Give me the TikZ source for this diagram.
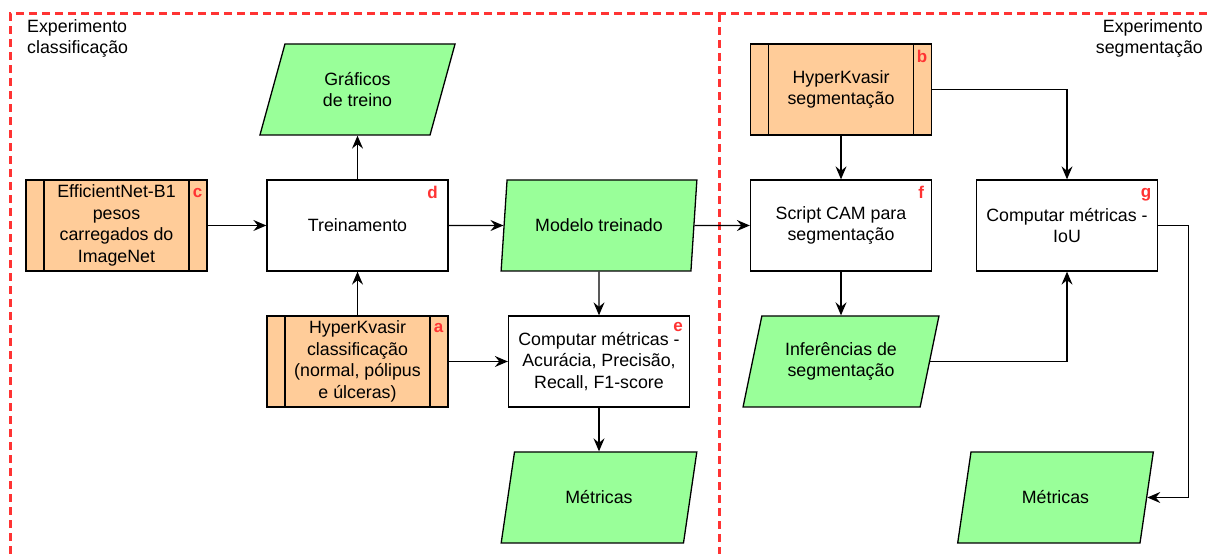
\documentclass[tikz,border=0pt]{standalone}
\usepackage{fontspec}
\setmainfont{Liberation Sans}
\usetikzlibrary{shapes.geometric,arrows.meta}
\definecolor{laranja}{HTML}{FFCC99}
\definecolor{verde}{HTML}{99FF99}
\definecolor{vermelho}{HTML}{FF3333}
\newcommand{\fonte}{\fontsize{17.8pt}{21.6pt}\selectfont}

\tikzset{
  caixa/.style={draw, line width=1.3pt, fill=white, minimum width=181pt, minimum height=91pt,
    inner sep=2pt, align=center, font=\fonte},
  processo/.style={caixa, fill=laranja, path picture={
      \draw[line width=1.3pt] ([xshift=18pt]path picture bounding box.north west) -- ([xshift=18pt]path picture bounding box.south west);
      \draw[line width=1.3pt] ([xshift=-18pt]path picture bounding box.north east) -- ([xshift=-18pt]path picture bounding box.south east);}},
  dados/.style={draw, line width=1.3pt, fill=verde, trapezium, trapezium left angle=72,
    trapezium right angle=108, trapezium stretches=true, minimum width=196pt,
    minimum height=91pt, inner sep=2pt, align=center, font=\fonte},
  letra/.style={text=vermelho, font=\fontsize{17pt}{17pt}\selectfont\bfseries, inner sep=0pt},
  seta/.style={line width=1.3pt, -{Stealth[length=13pt,width=11pt,inset=4.5pt]}},
  borda/.style={draw=vermelho, line width=3pt, dash pattern=on 8pt off 5pt},
  titulo/.style={font=\fonte, inner sep=0pt}
}

\begin{document}
\begin{tikzpicture}[x=1pt,y=1pt,node distance=136pt]
  \useasboundingbox (0,0) rectangle (1211,554);

  % areas dos experimentos
  \draw[borda] (10,0) |- (1211,540);
  \draw[borda] (719,540) -- (719,0);
  \node[titulo,anchor=north west,align=left] (expA) at (27,535) {Experimento\\classificação};
  \node[titulo,anchor=north east,align=right] (expB) at (1203,535) {Experimento\\segmentação};

  % classificacao
  \node[caixa] (treino) at (357.5,328.5) {Treinamento};
  \node[dados,above of=treino] (graficos) {Gráficos\\de treino};
  \node[processo,below of=treino] (kvasirA) {HyperKvasir\\classificação\\(normal, pólipus\\e úlceras)};
  \node[processo,left of=treino,xshift=-105pt] (pesos) {EfficientNet-B1\\pesos\\carregados do\\ImageNet};
  \node[dados,right of=treino,xshift=105.5pt,trapezium left angle=76,trapezium right angle=104] (modelo) {Modelo treinado};
  \node[caixa,below of=modelo] (metricasA) {Computar métricas -\\Acurácia, Precisão,\\Recall, F1-score};
  \node[dados,below of=metricasA] (resultadosA) {Métricas};

  % segmentacao
  \node[caixa,right of=modelo,xshift=106pt] (cam) {Script CAM para\\segmentação};
  \node[processo,above of=cam] (kvasirB) {HyperKvasir\\segmentação};
  \node[dados,below of=cam] (inferencias) {Inferências de\\segmentação};
  \node[caixa,right of=cam,xshift=90pt] (metricasB) {Computar métricas -\\IoU};
  \node[dados,below of=metricasB,yshift=-136pt,xshift=-11.5pt] (resultadosB) {Métricas};

  % letras
  \node[letra] (la) at ([xshift=-10pt,yshift=-13pt]kvasirA.north east) {a};
  \node[letra] (lb) at ([xshift=-10pt,yshift=-13pt]kvasirB.north east) {b};
  \node[letra] (lc) at ([xshift=-10pt,yshift=-14pt]pesos.north east) {c};
  \node[letra] (ld) at ([xshift=-16pt,yshift=-13pt]treino.north east) {d};
  \node[letra] (le) at ([xshift=-12pt,yshift=-12pt]metricasA.north east) {e};
  \node[letra] (lf) at ([xshift=-11pt,yshift=-13pt]cam.north east) {f};
  \node[letra] (lg) at ([xshift=-12pt,yshift=-15pt]metricasB.north east) {g};

  \draw[seta] (pesos) -- (treino);
  \draw[seta] (treino) -- (graficos);
  \draw[seta] (kvasirA) -- (treino);
  \draw[seta] (treino) -- (modelo);
  \draw[seta] (modelo) -- (metricasA);
  \draw[seta] (kvasirA) -- (metricasA);
  \draw[seta] (metricasA) -- (resultadosA);
  \draw[seta] (modelo) -- (cam);
  \draw[seta] (kvasirB) -- (cam);
  \draw[seta] (kvasirB) -| (metricasB);
  \draw[seta] (cam) -- (inferencias);
  \draw[seta] (inferencias) -| (metricasB);
  \draw[seta] (metricasB.east) -- ++(30pt,0) |- (resultadosB);
\end{tikzpicture}
\end{document}
